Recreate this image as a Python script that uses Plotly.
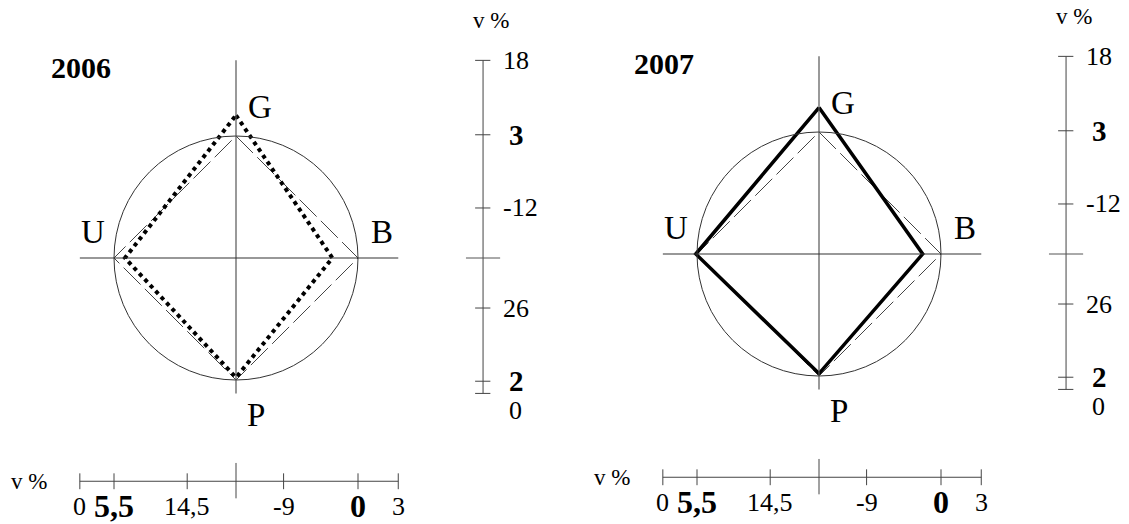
import numpy as np
import plotly.graph_objects as go

# radial diagram: four axes, radius 1 = reference circle
axis_names = ["G", "B", "P", "U"]
axis_angles = [90, 0, 270, 180]
ref_radius = [1.0, 1.0, 1.0, 1.0]

years = ["2006", "2007"]
radius_2006 = [1.17, 0.79, 0.98, 0.91]
radius_2007 = [1.20, 0.85, 0.98, 1.01]

# side scale (G up / P down) and bottom scale (U left / B right)
v_tick_labels = ["18", "3", "-12", "26", "2", "0"]
v_tick_vals = [1.62, 1.01, 0.41, -0.41, -1.01, -1.11]
v_tick_bold = [False, True, False, False, True, False]
h_tick_labels = ["0", "5,5", "14,5", "-9", "0", "3"]
h_tick_vals = [-1.28, -1.0, -0.40, 0.39, 1.0, 1.33]
h_tick_bold = [False, True, False, False, True, False]

FONT = "Liberation Serif, Times New Roman, serif"
W, H = 1129, 524
PX = 122.0  # pixels per unit

# panel geometry in pixels: (left, right, centre x, centre y)
panels = [(0, 564.5, 236, 258), (564.5, 1129, 819, 254)]
series = [(radius_2006, dict(color="black", width=4, dash="dot")),
          (radius_2007, dict(color="black", width=3.5))]

fig = go.Figure()
shapes = []
annotations = []


def polygon(radii):
    a = np.radians(axis_angles + axis_angles[:1])
    r = np.array(radii + radii[:1])
    return r * np.cos(a), r * np.sin(a)


def label(text, x, y, xa, ya, size, bold=False, **kw):
    annotations.append(dict(x=x, y=y, xref=xa, yref=ya,
                            text="<b>%s</b>" % text if bold else text,
                            showarrow=False,
                            font=dict(family=FONT, size=size, color="black"), **kw))


for i, (left, right, cx, cy) in enumerate(panels):
    n = "" if i == 0 else str(i + 1)
    xa, ya = "x" + n, "y" + n
    fig.update_layout(**{
        "xaxis" + n: dict(domain=[left / W, right / W],
                          range=[(left - cx) / PX, (right - cx) / PX],
                          visible=False, fixedrange=True),
        "yaxis" + n: dict(domain=[0, 1], range=[(cy - H) / PX, cy / PX],
                          visible=False, fixedrange=True),
    })

    # reference circle and cross
    shapes.append(dict(type="circle", xref=xa, yref=ya, x0=-1, x1=1, y0=-1, y1=1,
                       line=dict(color="#333", width=1)))
    shapes.append(dict(type="line", xref=xa, yref=ya, x0=0, x1=0,
                       y0=v_tick_vals[-1], y1=v_tick_vals[0],
                       line=dict(color="#555", width=1.2)))
    shapes.append(dict(type="line", xref=xa, yref=ya, x0=h_tick_vals[0],
                       x1=h_tick_vals[-1], y0=0, y1=0,
                       line=dict(color="#333", width=1.2)))

    # reference diamond (dashed) and the year's diamond
    rx, ry = polygon(ref_radius)
    fig.add_trace(go.Scatter(x=rx, y=ry, mode="lines", xaxis=xa, yaxis=ya,
                             line=dict(color="#444", width=1, dash="24px,6px"),
                             showlegend=False, hoverinfo="skip"))
    radii, style = series[i]
    dx, dy = polygon(radii)
    fig.add_trace(go.Scatter(x=dx, y=dy, mode="lines", xaxis=xa, yaxis=ya,
                             line=style, showlegend=False,
                             hovertemplate="%{x:.2f}, %{y:.2f}<extra>" + years[i] + "</extra>"))

    # axis letters
    for name, ang in zip(axis_names, axis_angles):
        lx = {90: 0.2, 0: 1.2, 270: 0.165, 180: -1.17}[ang]
        ly = {90: 1.24, 0: 0.21, 270: -1.29, 180: 0.21}[ang]
        label(name, lx, ly, xa, ya, 33)

    label(years[i], -1.27, 1.565, xa, ya, 30, bold=True)

    # side scale
    sx = 2.025
    shapes.append(dict(type="line", xref=xa, yref=ya, x0=sx, x1=sx,
                       y0=v_tick_vals[-1], y1=v_tick_vals[0],
                       line=dict(color="#444", width=1)))
    shapes.append(dict(type="line", xref=xa, yref=ya, x0=sx - 0.14, x1=sx + 0.14,
                       y0=0, y1=0, line=dict(color="#555", width=1)))
    for lab, val, bold in zip(v_tick_labels, v_tick_vals, v_tick_bold):
        shapes.append(dict(type="line", xref=xa, yref=ya, x0=sx - 0.065, x1=sx + 0.06,
                           y0=val, y1=val, line=dict(color="#444", width=1)))
        last = val == v_tick_vals[-1]
        label(lab, 2.17, val, xa, ya, 29 if bold else 26, bold=bold,
              xanchor="left", xshift=6 if (bold or last) else 0,
              yshift=-17 if last else 0)
    label("v %", 2.09, 1.95, xa, ya, 23)

    # bottom scale
    by = -1.83
    shapes.append(dict(type="line", xref=xa, yref=ya, x0=h_tick_vals[0], x1=h_tick_vals[-1],
                       y0=by, y1=by, line=dict(color="#444", width=1)))
    shapes.append(dict(type="line", xref=xa, yref=ya, x0=0, x1=0,
                       y0=by - 0.14, y1=by + 0.15, line=dict(color="#444", width=1)))
    for lab, val, bold in zip(h_tick_labels, h_tick_vals, h_tick_bold):
        shapes.append(dict(type="line", xref=xa, yref=ya, x0=val, x1=val,
                           y0=by - 0.065, y1=by + 0.065, line=dict(color="#444", width=1)))
        label(lab, val, by - 0.205, xa, ya, 32 if bold else 26, bold=bold)
    label("v %", -1.70, by, xa, ya, 23)

fig.update_layout(
    width=W, height=H,
    margin=dict(l=0, r=0, t=0, b=0),
    paper_bgcolor="white", plot_bgcolor="white",
    shapes=shapes, annotations=annotations,
    showlegend=False,
)

# drop the default 8px page margin so the figure fills the window exactly
fig.write_html("out.html", config={"displayModeBar": False},
               post_script="document.body.style.margin = '0';")
